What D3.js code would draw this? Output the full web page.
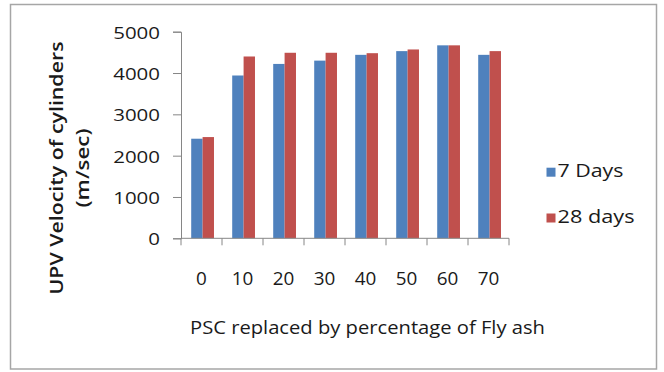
<!DOCTYPE html>
<html>
<head>
<meta charset="utf-8">
<script src="https://cdn.jsdelivr.net/npm/d3@7"></script>
<style>
  html, body { margin: 0; padding: 0; background: #fff; }
  svg { display: block; }
  text { font-family: "Open Sans", "Noto Sans", sans-serif; fill: #1a1a1a; }
</style>
</head>
<body>
<svg id="chart" width="664" height="372"></svg>
<script>
// Fly ash replacement levels (%) and UPV readings (m/sec)
const categories = ["0", "10", "20", "30", "40", "50", "60", "70"];
const seriesNames = ["7 Days", "28 days"];
const days7 = [2410, 3940, 4220, 4300, 4440, 4530, 4670, 4440];
const days28 = [2450, 4400, 4490, 4490, 4480, 4570, 4670, 4530];
const yTicks = [0, 1000, 2000, 3000, 4000, 5000];
const colors = ["#4F81BD", "#C0504D"];

const svg = d3.select("#chart");

// outer chart frame
svg.append("rect")
  .attr("x", 10.5).attr("y", 4.5)
  .attr("width", 646).attr("height", 364.5)
  .attr("fill", "#fff")
  .attr("stroke", "#a6a6a6")
  .attr("stroke-width", 1.5);

const plot = { left: 181, right: 509, top: 31.7, bottom: 238.3 };

const x0 = d3.scaleBand().domain(categories).range([plot.left, plot.right]).padding(0);
const x1 = d3.scaleBand().domain(seriesNames).range([0, x0.bandwidth()])
  .paddingInner(0).paddingOuter(0.8).align(0.56);
const y = d3.scaleLinear().domain([0, 5000]).range([plot.bottom, plot.top]);

const rows = categories.map((c, i) => ({ cat: c, values: [days7[i], days28[i]] }));

// bars
const groups = svg.append("g").selectAll("g")
  .data(rows).join("g")
  .attr("transform", d => `translate(${x0(d.cat)},0)`);
groups.selectAll("rect")
  .data(d => d.values.map((v, k) => ({ key: seriesNames[k], v, k })))
  .join("rect")
  .attr("x", d => x1(d.key))
  .attr("width", x1.bandwidth())
  .attr("y", d => y(d.v))
  .attr("height", d => y(0) - y(d.v))
  .attr("fill", d => colors[d.k]);

// y axis
const yAxis = svg.append("g")
  .attr("transform", `translate(${plot.left},0)`)
  .call(d3.axisLeft(y).tickValues(yTicks).tickFormat(d3.format("d")).tickSize(8).tickPadding(13));
yAxis.select(".domain").attr("stroke", "#868686");
yAxis.selectAll(".tick line").attr("stroke", "#868686");
yAxis.selectAll(".tick text")
  .attr("font-size", 17)
  .attr("dy", "0.38em")
  .attr("fill", "#1a1a1a")
  .attr("textLength", d => String(d).length * 11.7)
  .attr("lengthAdjust", "spacingAndGlyphs");

// x axis: labels under each category, tick marks on the band boundaries
const xAxis = svg.append("g")
  .attr("transform", `translate(0,${plot.bottom})`)
  .call(d3.axisBottom(x0).tickSize(0).tickPadding(34));
xAxis.select(".domain").attr("stroke", "#868686").attr("d", `M${plot.left},0H${plot.right}`);
xAxis.selectAll(".tick text")
  .attr("font-size", 18)
  .attr("fill", "#1a1a1a")
  .attr("textLength", d => d.length * 10.8)
  .attr("lengthAdjust", "spacingAndGlyphs");
const bounds = categories.map(c => x0(c)).concat([x0.range()[1]]);
xAxis.selectAll("line.bound")
  .data(bounds).join("line")
  .attr("class", "bound")
  .attr("x1", d => d).attr("x2", d => d)
  .attr("y1", 0).attr("y2", 7)
  .attr("stroke", "#868686");

// axis titles
svg.append("text")
  .attr("x", 367.5).attr("y", 334)
  .attr("text-anchor", "middle")
  .attr("font-size", 19).attr("font-weight", 500)
  .attr("textLength", 355).attr("lengthAdjust", "spacingAndGlyphs")
  .text("PSC replaced by percentage of Fly ash");

const yTitle = svg.append("g").attr("transform", "translate(0,168) rotate(-90)");
yTitle.append("text")
  .attr("x", 0).attr("y", 63)
  .attr("text-anchor", "middle")
  .attr("font-size", 18).attr("font-weight", 600)
  .attr("textLength", 253).attr("lengthAdjust", "spacingAndGlyphs")
  .text("UPV Velocity of cylinders");
yTitle.append("text")
  .attr("x", 0).attr("y", 89)
  .attr("text-anchor", "middle")
  .attr("font-size", 18).attr("font-weight", 600)
  .attr("textLength", 79).attr("lengthAdjust", "spacingAndGlyphs")
  .text("(m/sec)");

// legend
const legendY = d3.scalePoint().domain(seriesNames).range([176.7, 222.5]);
const legend = svg.append("g").selectAll("g")
  .data(seriesNames).join("g")
  .attr("transform", d => `translate(546.5,${legendY(d)})`);
legend.append("rect")
  .attr("x", 0).attr("y", -9)
  .attr("width", 9).attr("height", 9)
  .attr("fill", (d, i) => colors[i]);
legend.append("text")
  .attr("x", 11).attr("y", 0)
  .attr("font-size", 19)
  .attr("textLength", (d, i) => [66, 77][i]).attr("lengthAdjust", "spacingAndGlyphs")
  .text(d => d);
</script>
</body>
</html>
